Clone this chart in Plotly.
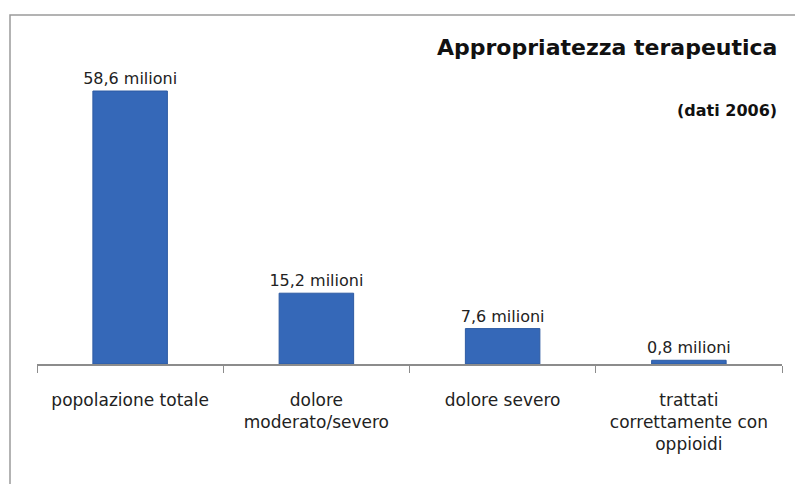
import plotly.graph_objects as go

categories = ["popolazione totale", "dolore<br>moderato/severo", "dolore severo",
              "trattati<br>correttamente con<br>oppioidi"]
values = [58.6, 15.2, 7.6, 0.8]
value_labels = ["58,6 milioni", "15,2 milioni", "7,6 milioni", "0,8 milioni"]

FONT = "'DejaVu Sans', Verdana, sans-serif"

fig = go.Figure()
fig.add_trace(go.Bar(
    x=categories, y=values, text=value_labels, textposition="outside",
    constraintext="none",
    textfont=dict(size=16, color="#222", family=FONT),
    marker=dict(color="#3568b8", line=dict(color="#2d5aa2", width=1)),
    cliponaxis=False, width=0.4,
))

W, H = 795, 484
l, r, t, b = 37, 13, 30, 120
pw, ph = W - l - r, H - t - b

def px(x):
    return (x - l) / pw

def py(y):
    return (H - b - y) / ph

fig.update_layout(
    width=W, height=H,
    margin=dict(l=l, r=r, t=t, b=b),
    paper_bgcolor="white", plot_bgcolor="white",
    showlegend=False,
    font=dict(family=FONT, size=16, color="#222"),
    xaxis=dict(showline=True, linecolor="#8c8c8c", linewidth=1.5,
               ticks="outside", tickson="boundaries", ticklen=7, tickcolor="#8c8c8c",
               ticklabelstandoff=20, tickfont=dict(size=17, color="#222"),
               range=[-0.5, 3.5]),
    yaxis=dict(visible=False, range=[0, 71.7]),
    shapes=[dict(type="rect", xref="paper", yref="paper",
                 x0=px(10), x1=px(810), y0=py(500), y1=py(15),
                 line=dict(color="#9a9a9a", width=1.5), fillcolor="rgba(0,0,0,0)",
                 layer="below")],
    annotations=[
        dict(text="<b>Appropriatezza terapeutica</b>", xref="paper", yref="paper",
             x=px(779), y=py(47), xanchor="right", yanchor="middle",
             showarrow=False, font=dict(size=22, color="#111", family=FONT)),
        dict(text="<b>(dati 2006)</b>", xref="paper", yref="paper",
             x=px(779), y=py(110), xanchor="right", yanchor="middle",
             showarrow=False, font=dict(size=16, color="#111", family=FONT)),
    ],
)

fig.write_html("out.html")
